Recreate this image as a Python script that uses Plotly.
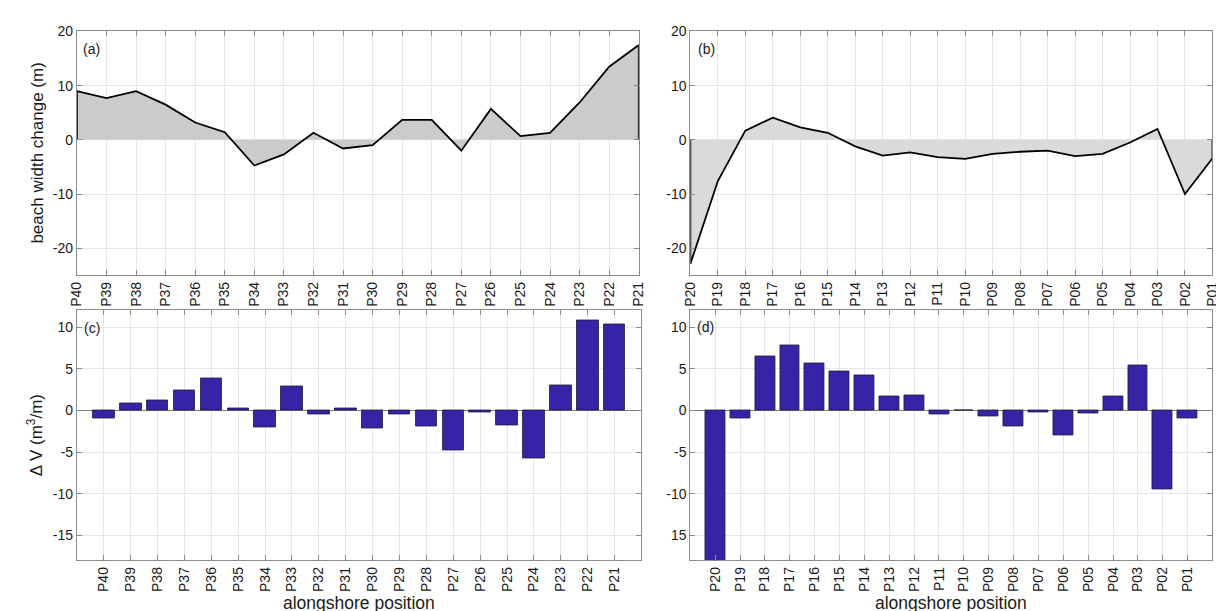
import plotly.graph_objects as go

# ---------------- data ----------------
north_labels = ["P40", "P39", "P38", "P37", "P36", "P35", "P34", "P33", "P32", "P31",
                "P30", "P29", "P28", "P27", "P26", "P25", "P24", "P23", "P22", "P21"]
south_labels = ["P20", "P19", "P18", "P17", "P16", "P15", "P14", "P13", "P12", "P11",
                "P10", "P09", "P08", "P07", "P06", "P05", "P04", "P03", "P02", "P01"]

width_change_north = [9.0, 7.7, 9.0, 6.5, 3.2, 1.4, -4.75, -2.7, 1.3, -1.6,
                      -1.0, 3.7, 3.7, -2.0, 5.7, 0.7, 1.3, 6.9, 13.5, 17.5]
width_change_south = [-22.9, -7.6, 1.7, 4.1, 2.3, 1.3, -1.2, -2.9, -2.3, -3.2,
                      -3.5, -2.6, -2.2, -2.0, -3.0, -2.6, -0.5, 2.0, -10.0, -3.4]

volume_change_north = [-0.9, 0.9, 1.26, 2.37, 3.9, 0.3, -2.0, 2.9, -0.5, 0.24,
                       -2.2, -0.5, -1.9, -4.8, -0.2, -1.8, -5.8, 3.04, 10.8, 10.3]
volume_change_south = [-19.0, -1.0, 6.5, 7.8, 5.7, 4.74, 4.2, 1.7, 1.78, -0.5,
                       0.0, -0.75, -1.9, -0.28, -3.0, -0.35, 1.7, 5.45, -9.45, -0.9]

width_yticks = [20, 10, 0, -10, -20]
volume_yticks = [10, 5, 0, -5, -10, -15]
volume_yticktext_c = ["10", "5", "0", "-5", "-10", "-15"]
volume_yticktext_d = ["10", "5", "0", "-5", "-10", "15"]

# ---------------- layout helpers ----------------
W, H = 1224, 611
FONT = "Liberation Sans, Arial, Helvetica, sans-serif"
AX_COLOR = "#8c8c8c"
GRID = "#e4e6ee"
BAR_COLOR = "#3524a6"


def px_x(p):
    return p / W


def px_y(p):
    return 1 - p / H


dom_x_left_top = [px_x(61.7), px_x(631.0)]
dom_x_right = [px_x(683.3), px_x(1212.3)]
dom_x_left_bot = [px_x(61.7), px_x(633.7)]
dom_y_top = [px_y(262.7), px_y(15.7)]
dom_y_bot = [px_y(551.7), px_y(298.3)]


def xaxis_style(labels, domain, anchor, rng):
    return dict(
        type="category", categoryorder="array", categoryarray=labels,
        domain=domain, anchor=anchor, range=rng,
        showline=True, linecolor=AX_COLOR, linewidth=1, mirror="ticks",
        ticks="inside", ticklen=5, tickcolor=AX_COLOR,
        showgrid=True, gridcolor=GRID, gridwidth=1,
        tickangle=-90, tickfont=dict(size=14, color="#1a1a1a", family=FONT),
        zeroline=False,
    )


def yaxis_style(domain, anchor, rng, tickvals, ticktext, zeroline):
    d = dict(
        domain=domain, anchor=anchor, range=rng,
        tickmode="array", tickvals=tickvals, ticktext=ticktext,
        showline=True, linecolor=AX_COLOR, linewidth=1, mirror="ticks",
        ticks="inside", ticklen=5, tickcolor=AX_COLOR,
        showgrid=True, gridcolor=GRID, gridwidth=1,
        tickfont=dict(size=14, color="#1a1a1a", family=FONT),
        zeroline=zeroline,
    )
    if zeroline:
        d.update(zerolinecolor="#7a7a7a", zerolinewidth=1)
    return d


fig = go.Figure()

# (a) beach width change, north
fig.add_trace(go.Scatter(
    x=[north_labels[0]] + north_labels + [north_labels[-1]],
    y=[0] + width_change_north + [0],
    mode="lines", fill="toself", fillcolor="#cbcbcd",
    line=dict(color="black", width=1.8),
    xaxis="x", yaxis="y", showlegend=False, hoverinfo="skip",
))

# (b) beach width change, south
fig.add_trace(go.Scatter(
    x=[south_labels[0]] + south_labels + [south_labels[-1]],
    y=[0] + width_change_south + [0],
    mode="lines", fill="toself", fillcolor="#dadadc",
    line=dict(color="black", width=1.8),
    xaxis="x2", yaxis="y2", showlegend=False, hoverinfo="skip",
))

# (c) volume change, north
fig.add_trace(go.Bar(
    x=north_labels, y=volume_change_north, width=0.8,
    marker=dict(color=BAR_COLOR, line=dict(color="#1e1e3a", width=0.8)),
    xaxis="x3", yaxis="y3", showlegend=False,
))

# (d) volume change, south
fig.add_trace(go.Bar(
    x=south_labels, y=volume_change_south, width=0.8,
    marker=dict(color=BAR_COLOR, line=dict(color="#1e1e3a", width=0.8)),
    xaxis="x4", yaxis="y4", showlegend=False,
))

n = len(north_labels)
fig.update_layout(
    width=W, height=H,
    margin=dict(l=0, r=0, t=0, b=0),
    paper_bgcolor="white", plot_bgcolor="white",
    font=dict(family=FONT, color="#1a1a1a"),
    xaxis=xaxis_style(north_labels, dom_x_left_top, "y", [0, n - 1]),
    yaxis=yaxis_style(dom_y_top, "x", [-25, 20], width_yticks,
                      [str(v) for v in width_yticks], False),
    xaxis2=xaxis_style(south_labels, dom_x_right, "y2", [0, n - 1]),
    yaxis2=yaxis_style(dom_y_top, "x2", [-25, 20], width_yticks,
                       [str(v) for v in width_yticks], False),
    xaxis3=xaxis_style(north_labels, dom_x_left_bot, "y3", [-1, n]),
    yaxis3=yaxis_style(dom_y_bot, "x3", [-18, 12], volume_yticks,
                       volume_yticktext_c, True),
    xaxis4=xaxis_style(south_labels, dom_x_right, "y4", [-1, n]),
    yaxis4=yaxis_style(dom_y_bot, "x4", [-18, 12], volume_yticks,
                       volume_yticktext_d, True),
    bargap=0,
)

ann = []
for txt, x, y in [("(a)", 66, 33), ("(b)", 689, 33), ("(c)", 67, 316), ("(d)", 688, 315)]:
    ann.append(dict(text=txt, x=px_x(x), y=px_y(y), xref="paper", yref="paper",
                    xanchor="left", yanchor="middle", showarrow=False,
                    font=dict(size=14, family=FONT, color="#1a1a1a")))

ann.append(dict(text="beach width change (m)", x=px_x(21.7), y=px_y(139),
                xref="paper", yref="paper", textangle=-90, showarrow=False,
                xanchor="center", yanchor="middle",
                font=dict(size=17, family=FONT, color="#1a1a1a")))
ann.append(dict(text="Δ V (m<sup>3</sup>/m)", x=px_x(20), y=px_y(425),
                xref="paper", yref="paper", textangle=-90, showarrow=False,
                xanchor="center", yanchor="middle",
                font=dict(size=17, family=FONT, color="#1a1a1a")))
for cx in [(61.7 + 633.7) / 2, (683.3 + 1212.3) / 2]:
    ann.append(dict(text="alongshore position", x=px_x(cx), y=px_y(595),
                    xref="paper", yref="paper", showarrow=False,
                    xanchor="center", yanchor="middle",
                    font=dict(size=17.5, family=FONT, color="#1a1a1a")))

fig.update_layout(annotations=ann)

fig.write_html("out.html")
